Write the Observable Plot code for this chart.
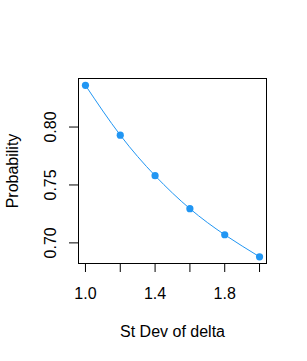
<!DOCTYPE html>
<html>
<head>
<meta charset="utf-8">
<script src="https://cdn.jsdelivr.net/npm/d3@7"></script>
<script src="https://cdn.jsdelivr.net/npm/@observablehq/plot@0.6"></script>
<style>
  html, body { margin: 0; padding: 0; background: #ffffff; }
  #chart svg { display: block; }
</style>
</head>
<body>
<div id="chart"></div>
<script>
const stDev = [1.0, 1.2, 1.4, 1.6, 1.8, 2.0];
const probability = [0.836, 0.793, 0.758, 0.7295, 0.707, 0.688];
const xTicks = [1.0, 1.2, 1.4, 1.6, 1.8, 2.0];
const xTickLabels = [1.0, 1.4, 1.8];
const yTicks = [0.70, 0.75, 0.80];
const xTitle = "St Dev of delta";
const yTitle = "Probability";

const data = stDev.map((x, i) => ({x, y: probability[i]}));
const col = "#2196F3";

const chart = Plot.plot({
  width: 307,
  height: 361,
  marginLeft: 78,
  marginRight: 41,
  marginTop: 78,
  marginBottom: 98,
  style: {fontFamily: "'Liberation Sans', Arial, sans-serif", fontSize: "16px", background: "#ffffff", color: "#000"},
  x: {domain: [0.96, 2.04]},
  y: {domain: [0.6822, 0.8419]},
  marks: [
    Plot.frame({stroke: "black", strokeWidth: 1}),
    Plot.axisX({ticks: xTicks, tickSize: 9, tickFormat: () => "", label: null, stroke: "black"}),
    Plot.axisY({ticks: yTicks, tickSize: 9, tickFormat: () => "", label: null, stroke: "black"}),
    Plot.text(xTickLabels, {x: d => d, text: d => d.toFixed(1), frameAnchor: "bottom", dy: 30, lineAnchor: "middle", fill: "black"}),
    Plot.text(yTicks, {y: d => d, text: d => d.toFixed(2), frameAnchor: "left", dx: -28, rotate: -90, lineAnchor: "middle", textAnchor: "middle", fill: "black"}),
    Plot.text([xTitle], {text: d => d, frameAnchor: "bottom", dy: 68, lineAnchor: "middle", fill: "black"}),
    Plot.text([yTitle], {text: d => d, frameAnchor: "left", dx: -66, rotate: -90, lineAnchor: "middle", textAnchor: "middle", fill: "black"}),
    Plot.line(data, {x: "x", y: "y", stroke: col, strokeWidth: 1, curve: "natural"}),
    Plot.dot(data, {x: "x", y: "y", r: 3.6, fill: col, stroke: "none"})
  ]
});
document.getElementById("chart").appendChild(chart);
</script>
</body>
</html>
